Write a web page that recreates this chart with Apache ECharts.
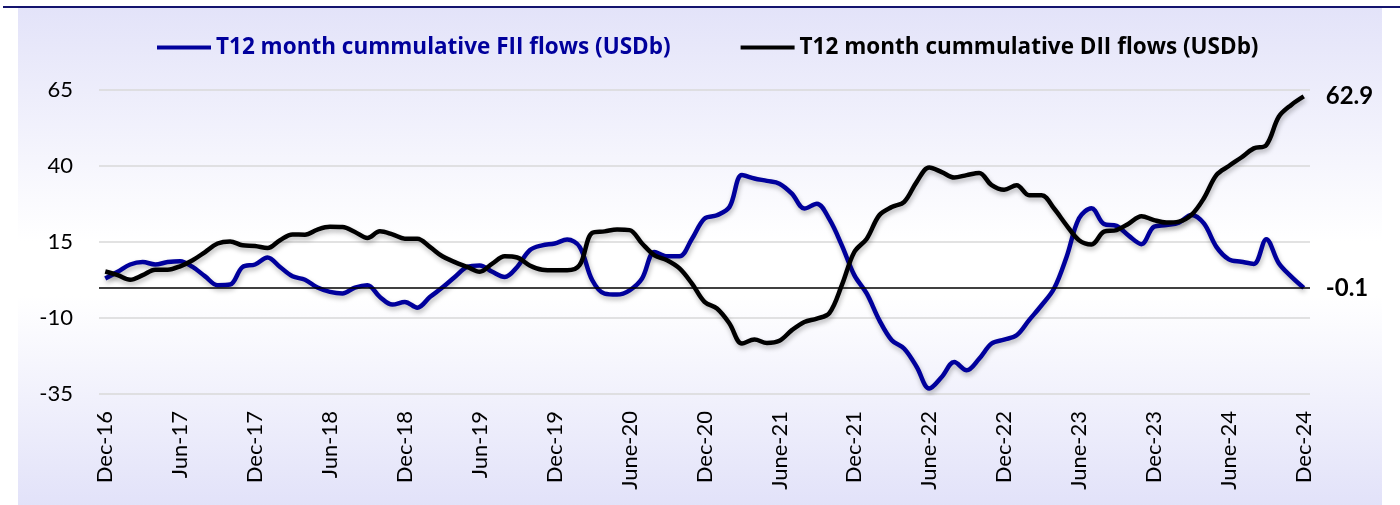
<!DOCTYPE html>
<html>
<head>
<meta charset="utf-8">
<script src="https://cdn.jsdelivr.net/npm/echarts@6/dist/echarts.min.js"></script>
<style>
html,body{margin:0;padding:0;background:#fff;}
#chart{width:1400px;height:505px;}
</style>
</head>
<body>
<div id="chart"></div>
<script>
// Tick labels shown every 6 months (Dec-16 .. Dec-24)
const tickLabels = ["Dec-16","Jun-17","Dec-17","Jun-18","Dec-18","Jun-19","Dec-19","June-20","Dec-20","June-21","Dec-21","June-22","Dec-22","June-23","Dec-23","June-24","Dec-24"];
const monthNames = ["Jan","Feb","Mar","Apr","May","Jun","Jul","Aug","Sep","Oct","Nov","Dec"];
const startYear = 2016, startMonth = 11, monthCount = 97;

// T12 month cumulative FII flows (USDb)
const fiiFlows = [3.0,5.2,7.6,8.4,7.6,8.4,8.7,6.8,3.7,0.8,1.0,6.8,7.6,9.9,6.8,3.7,2.6,0.0,-1.4,-1.9,
0.0,0.8,-3.1,-5.6,-4.7,-6.6,-3.1,0.0,3.5,6.8,7.3,5.2,3.5,6.8,12.3,13.9,14.5,15.8,13.4,2.5,
-2.0,-2.3,-0.9,3.0,11.7,10.3,10.3,16.1,22.7,23.8,26.5,37.0,35.9,35.1,34.2,30.9,26.0,27.6,22.5,13.9,
4.1,-2.0,-10.7,-17.3,-20.1,-26.1,-33.2,-29.4,-24.5,-27.2,-23.4,-18.4,-17.1,-15.7,-10.7,-5.8,-0.3,10.1,22.8,26.1,
20.9,20.3,17.0,14.3,20.0,20.6,21.4,23.9,21.1,13.4,9.3,8.5,7.8,15.9,8.0,3.6,-0.1];

// T12 month cumulative DII flows (USDb)
const diiFlows = [5.3,4.1,2.6,4.1,5.9,5.9,7.0,9.0,11.7,14.5,15.2,13.9,13.7,13.0,15.6,17.5,17.4,19.1,20.0,19.9,
18.3,16.3,18.5,17.5,16.1,16.1,13.4,10.3,8.4,6.8,5.2,7.9,10.3,9.9,7.3,5.9,5.7,5.7,7.4,18.0,
18.5,19.1,18.9,14.5,10.6,9.0,6.3,1.3,-4.7,-6.9,-11.8,-18.4,-17.1,-18.2,-17.5,-14.0,-11.3,-10.2,-8.4,0.8,
11.7,16.1,23.8,26.5,28.2,34.8,39.5,38.0,36.2,37.0,37.7,33.7,32.2,33.7,30.4,30.4,26.0,20.5,15.6,14.2,
18.4,18.9,21.1,23.5,22.2,21.4,21.7,23.9,29.4,37.0,40.0,42.8,45.8,46.9,56.2,60.1,62.9];

const seriesNames = ["T12 month cummulative FII flows (USDb)","T12 month cummulative DII flows (USDb)"];
const yTicks = {min:-35, max:65, interval:25};

const categories = [];
for (let k = 0; k < monthCount; k++) {
  const m = (startMonth + k) % 12;
  const y = startYear + Math.floor((startMonth + k) / 12);
  categories.push(monthNames[m] + "-" + String(y).slice(2));
}

const FONT = 'Lato, "Open Sans", sans-serif';
const LEGEND_FONT = '"Open Sans", Lato, sans-serif';
const chart = echarts.init(document.getElementById('chart'), null, {renderer:'canvas'});
const shadow = {shadowColor:'rgba(0,0,0,0.28)', shadowBlur:5, shadowOffsetX:1, shadowOffsetY:3};

chart.setOption({
  animation:false,
  backgroundColor:'#ffffff',
  graphic:[
    {type:'rect', z:-10, silent:true, shape:{x:18,y:8,width:1364,height:497},
     style:{fill:new echarts.graphic.LinearGradient(0,0,0,1,[
       {offset:0,color:'#E3E3F9'},{offset:0.47,color:'#FFFFFF'},{offset:0.58,color:'#FFFFFF'},{offset:1,color:'#E2E2F9'}])}},
    {type:'line', z:10, silent:true, shape:{x1:3,y1:7,x2:1400,y2:7}, style:{stroke:'#14146E', lineWidth:2}}
  ],
  legend:{
    left:157, top:36, padding:0, itemGap:70, itemWidth:54, itemHeight:4, icon:'rect',
    data:[
      {name:seriesNames[0], textStyle:{color:'#00009C'}},
      {name:seriesNames[1], textStyle:{color:'#000000'}}
    ],
    textStyle:{fontFamily:LEGEND_FONT, fontWeight:'bold', fontSize:22.5, padding:[0,0,0,0]}
  },
  grid:{left:99, right:90, top:90, bottom:111, containLabel:false},
  xAxis:{
    type:'category', data:categories, boundaryGap:true,
    axisLine:{show:false, onZero:false}, axisTick:{show:false},
    axisLabel:{
      interval:5, rotate:90, margin:17, color:'#000', fontFamily:FONT, fontSize:22,
      formatter:function(v, idx){ return tickLabels[Math.round(idx/6)] || ''; }
    },
    splitLine:{show:false}
  },
  yAxis:{
    type:'value', min:yTicks.min, max:yTicks.max, interval:yTicks.interval,
    axisLine:{show:false}, axisTick:{show:false},
    axisLabel:{color:'#000', fontFamily:FONT, fontSize:22, margin:26},
    splitLine:{lineStyle:{color:'#D9D9D9', width:1.5}}
  },
  series:[
    {name:seriesNames[0], type:'line', data:fiiFlows, smooth:0.35, symbol:'none',
     color:'#00009C', lineStyle:Object.assign({width:4.5, color:'#00009C'}, shadow),
     endLabel:{show:true, distance:22, formatter:function(p){return p.value.toFixed(1);},
       color:'#000', fontFamily:FONT, fontWeight:'bold', fontSize:24},
     markLine:{silent:true, symbol:'none', label:{show:false},
       lineStyle:{color:'#000', width:1.5, type:'solid'}, data:[{yAxis:0}]},
     z:3},
    {name:seriesNames[1], type:'line', data:diiFlows, smooth:0.35, symbol:'none',
     color:'#000000', lineStyle:Object.assign({width:4.5, color:'#000000'}, shadow),
     endLabel:{show:true, distance:22, formatter:function(p){return p.value.toFixed(1);},
       color:'#000', fontFamily:FONT, fontWeight:'bold', fontSize:24},
     z:4}
  ]
});
</script>
</body>
</html>
